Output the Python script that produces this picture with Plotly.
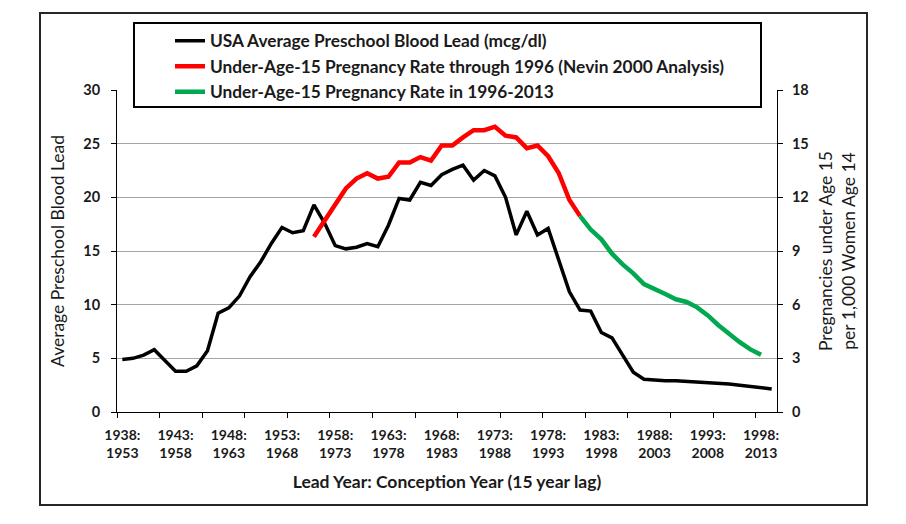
import plotly.graph_objects as go

years_lead = list(range(1938, 2000))
blood_lead = [4.9, 5.0, 5.3, 5.8, 4.8, 3.8, 3.8, 4.3, 5.7, 9.2,
              9.7, 10.8, 12.6, 14.0, 15.7, 17.2, 16.7, 16.9, 19.3, 17.6,
              15.5, 15.2, 15.35, 15.7, 15.4, 17.4, 19.9, 19.75, 21.4, 21.1,
              22.1, 22.6, 23.0, 21.6, 22.5, 22.0, 20.0, 16.5, 18.7, 16.5,
              17.1, 14.2, 11.2, 9.5, 9.4, 7.4, 6.9, 5.3, 3.7, 3.05,
              2.95, 2.92, 2.9, 2.85, 2.8, 2.75, 2.7, 2.6, 2.5, 2.4,
              2.3, 2.15]

years_red = list(range(1956, 1982))
preg_nevin = [9.8, 10.7, 11.6, 12.5, 13.05, 13.35, 13.05, 13.15, 13.95, 13.95,
              14.25, 14.05, 14.9, 14.9, 15.35, 15.75, 15.75, 15.95, 15.45, 15.35,
              14.75, 14.9, 14.3, 13.35, 11.85, 10.95]

years_green = list(range(1981, 1999))
preg_recent = [10.95, 10.2, 9.65, 8.85, 8.25, 7.75, 7.15, 6.9, 6.6, 6.3,
               6.15, 5.85, 5.4, 4.85, 4.35, 3.9, 3.5, 3.2]

label_years = list(range(1938, 1999, 5))
tick_labels = [f"{y}:<br>{y + 15}" for y in label_years]
boundary_ticks = [1937.5 + 4 * k for k in range(16)]

FONT = "Lato"
TXT = "#1a1a1a"

fig = go.Figure()
fig.add_trace(go.Scatter(x=years_lead, y=blood_lead, mode="lines",
                         name="USA Average Preschool Blood Lead (mcg/dl)",
                         line=dict(color="#000000", width=3.5)))
fig.add_trace(go.Scatter(x=years_red, y=preg_nevin, mode="lines", yaxis="y2",
                         name="Under-Age-15 Pregnancy Rate through 1996 (Nevin 2000 Analysis)",
                         line=dict(color="#FF0000", width=4.5)))
fig.add_trace(go.Scatter(x=years_green, y=preg_recent, mode="lines", yaxis="y2",
                         name="Under-Age-15 Pregnancy Rate in 1996-2013",
                         line=dict(color="#00A84F", width=4.5)))

fig.update_layout(
    width=906, height=524,
    margin=dict(l=109, r=137, t=82, b=120),
    paper_bgcolor="white", plot_bgcolor="white",
    font=dict(family=FONT, size=14, color=TXT),
    showlegend=True,
    legend=dict(x=(170 - 117) / 660, y=(412 - 23) / 322, xanchor="left", yanchor="top",
                bgcolor="rgba(0,0,0,0)", borderwidth=0, itemwidth=30,
                font=dict(family=FONT, size=17.3, weight="bold", color=TXT),
                tracegroupgap=0),
    xaxis=dict(range=[1937.5, 1999.5], tickmode="array", tickvals=label_years,
               ticktext=tick_labels, ticks="", showgrid=False, zeroline=False,
               showline=True, linecolor="#000000", linewidth=1,
               tickfont=dict(family=FONT, size=14, weight="bold", color=TXT),
               ticklabelstandoff=10,
               minor=dict(tickmode="array", tickvals=boundary_ticks, ticks="outside",
                          ticklen=5, tickcolor="#000000", tickwidth=1, showgrid=False),
               title=dict(text="Lead Year: Conception Year (15 year lag)",
                          font=dict(family=FONT, size=17.5, weight="bold", color=TXT), standoff=15)),
    xaxis2=dict(range=[1937.5, 1999.5], overlaying="x", anchor="y", side="bottom",
                tickmode="array", tickvals=boundary_ticks, ticks="inside", ticklen=4,
                tickcolor="#000000", showticklabels=False, showgrid=False,
                zeroline=False, showline=False),
    yaxis=dict(range=[0, 30], tickmode="array", tickvals=[0, 5, 10, 15, 20, 25, 30],
               ticks="outside", ticklen=5, tickcolor="#000000",
               showline=True, linecolor="#000000", linewidth=1,
               showgrid=True, gridcolor="#A6A6A6", gridwidth=1, zeroline=False,
               tickfont=dict(family=FONT, size=14.5, weight="bold", color=TXT),
               ticklabelstandoff=8,
               title=dict(text="Average Preschool Blood Lead",
                          font=dict(family=FONT, size=17.5, color=TXT), standoff=14)),
    yaxis2=dict(range=[0, 18], tickmode="array", tickvals=[0, 3, 6, 9, 12, 15, 18],
                overlaying="y", side="right",
                ticks="outside", ticklen=5, tickcolor="#000000",
                showline=True, linecolor="#000000", linewidth=1,
                showgrid=False, zeroline=False,
                tickfont=dict(family=FONT, size=14.5, weight="bold", color=TXT),
                ticklabelstandoff=6,
                title=dict(text="Pregnancies under Age 15<br>per 1,000 Women Age 14",
                           font=dict(family=FONT, size=17.5, color=TXT), standoff=12)),
    shapes=[
        dict(type="rect", xref="paper", yref="paper",
             x0=(40 - 117) / 660, x1=(867 - 117) / 660,
             y0=(412 - 505) / 322, y1=(412 - 13) / 322,
             line=dict(color="#262626", width=2), fillcolor="rgba(0,0,0,0)", layer="below"),
        dict(type="rect", xref="paper", yref="paper",
             x0=(134 - 117) / 660, x1=(761 - 117) / 660,
             y0=(412 - 107) / 322, y1=(412 - 23) / 322,
             line=dict(color="#000000", width=2), fillcolor="white", layer="above"),
    ],
)

fig.write_html("out.html")
